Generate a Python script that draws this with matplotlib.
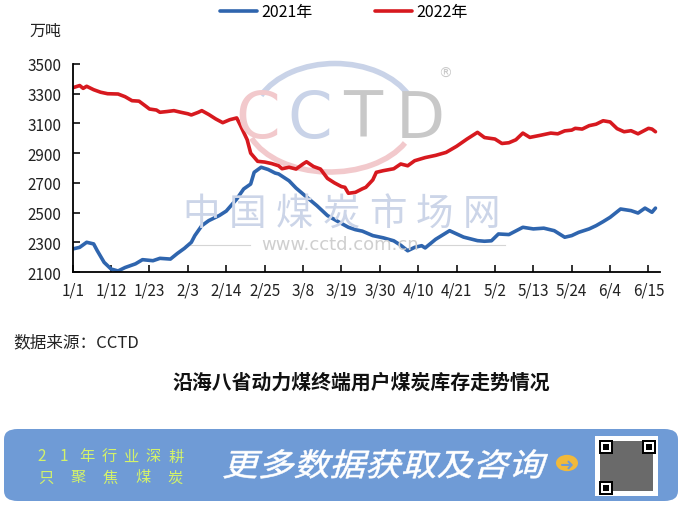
import numpy as np
import matplotlib
matplotlib.use("Agg")
import matplotlib.pyplot as plt
from matplotlib.patches import Arc, FancyBboxPatch, Circle, Rectangle, PathPatch
from matplotlib.textpath import TextPath
from matplotlib.font_manager import FontProperties
from matplotlib.transforms import Affine2D

plt.rcParams['font.family'] = ['Noto Sans CJK SC', 'DejaVu Sans']

# Données (jour depuis le 1/1, stock en 10^4 t)
days_2022 = [0, 2, 3, 4, 6, 8, 10, 13, 15, 17, 19, 21, 22, 24, 25, 27, 29, 31, 33, 34,
             36, 37, 39, 41, 43, 45, 47, 48, 50, 51, 53, 55, 57, 59, 60, 62, 64, 66, 67, 69,
             71, 73, 75, 77, 78, 79, 81, 83, 84, 86, 87, 89, 92, 94, 96, 98, 101, 104, 107, 110,
             113, 116, 118, 121, 123, 125, 127, 129, 131, 134, 137, 139, 141, 143, 144, 146, 148, 150, 152, 154,
             156, 158, 160, 162, 165, 166, 167]
vals_2022 = [3340, 3355, 3336, 3350, 3327, 3310, 3300, 3298, 3280, 3253, 3250, 3215, 3197, 3190, 3175, 3180, 3186, 3175, 3165, 3157,
             3175, 3186, 3160, 3130, 3105, 3125, 3137, 3090, 2990, 2900, 2845, 2840, 2830, 2815, 2795, 2805, 2793, 2827, 2842, 2810,
             2793, 2730, 2700, 2675, 2670, 2630, 2636, 2660, 2670, 2720, 2771, 2782, 2795, 2827, 2815, 2849, 2870, 2885, 2905, 2946,
             2995, 3040, 3005, 2995, 2965, 2970, 2990, 3035, 3006, 3020, 3035, 3030, 3050, 3055, 3067, 3062, 3085, 3095, 3118, 3110,
             3065, 3044, 3051, 3030, 3067, 3062, 3044]

days_2021 = [0, 2, 4, 6, 7, 9, 11, 13, 15, 18, 20, 23, 25, 28, 30, 32, 34, 35, 37, 39,
             42, 44, 47, 49, 51, 52, 54, 56, 58, 59, 62, 64, 67, 70, 73, 76, 79, 81, 83, 86,
             89, 92, 94, 96, 98, 100, 101, 104, 108, 112, 116, 118, 120, 122, 125, 129, 132, 135, 138, 141,
             143, 145, 148, 150, 152, 154, 157, 160, 162, 164, 166, 167]
vals_2021 = [2255, 2266, 2300, 2289, 2245, 2165, 2120, 2107, 2130, 2155, 2183, 2176, 2192, 2187, 2225, 2259, 2300, 2345, 2412, 2446,
             2480, 2510, 2591, 2659, 2692, 2771, 2805, 2790, 2766, 2760, 2714, 2665, 2605, 2546, 2480, 2440, 2401, 2385, 2375, 2345,
             2330, 2310, 2280, 2243, 2266, 2277, 2262, 2320, 2378, 2335, 2311, 2307, 2310, 2356, 2352, 2401, 2390, 2395, 2378, 2334,
             2345, 2367, 2390, 2412, 2439, 2468, 2524, 2513, 2497, 2530, 2502, 2530]

tick_days = [0, 11, 22, 33, 44, 55, 66, 77, 88, 99, 110, 121, 132, 143, 154, 165]
tick_labels = ['1/1', '1/12', '1/23', '2/3', '2/14', '2/25', '3/8', '3/19', '3/30',
               '4/10', '4/21', '5/2', '5/13', '5/24', '6/4', '6/15']
y_ticks = [2100, 2300, 2500, 2700, 2900, 3100, 3300, 3500]

W, H = 682, 506
fig = plt.figure(figsize=(W/100, H/100), dpi=100)

def fx(px):
    return px / W

def fy(py):
    return 1 - py / H

# Filigrane CCTD
wm = dict(ha='center', va='center', zorder=0, family='DejaVu Sans')
fig.text(fx(258), fy(120), 'C', fontsize=46, color='#f2c9cc', **wm)
fig.text(fx(310), fy(120), 'C', fontsize=46, color='#c9d3e8', **wm)
fig.text(fx(363), fy(120), 'T', fontsize=46, color='#c8c8c8', **wm)
fig.text(fx(420), fy(120), 'D', fontsize=46, color='#c8c8c8', **wm)
fig.text(fx(445), fy(74), '®', fontsize=10, color='#c8c8c8', **wm)
fig.add_artist(Arc((fx(335), fy(122)), 165/W, 115/H, theta1=25, theta2=155,
                   color='#c9d3e8', lw=4, transform=fig.transFigure, zorder=0))
fig.add_artist(Arc((fx(330), fy(118)), 170/W, 110/H, theta1=200, theta2=335,
                   color='#f2c9cc', lw=4, transform=fig.transFigure, zorder=0))
for i, ch in enumerate('中国煤炭市场网'):
    fig.text(fx(201 + i * 46.7), fy(214), ch, fontsize=27, color='#ccd5e8',
             ha='center', va='center', zorder=0)
fig.text(fx(340), fy(245), 'www.cctd.com.cn', fontsize=13, color='#cfcfcf', **wm)
fig.add_artist(plt.Line2D([fx(185), fx(250)], [fy(246), fy(246)], color='#d5d5d5', lw=0.8, zorder=0))
fig.add_artist(plt.Line2D([fx(430), fx(505)], [fy(246), fy(246)], color='#d5d5d5', lw=0.8, zorder=0))

ax = fig.add_axes([fx(72.7), fy(273), (660 - 72.7)/W, 208/H])
ax.patch.set_alpha(0)
ax.plot(days_2021, vals_2021, color='#2f65ae', lw=2.6, label='2021年', solid_capstyle='round')
ax.plot(days_2022, vals_2022, color='#d7191f', lw=2.6, label='2022年', solid_capstyle='round')

ax.set_xlim(0, 168.3)
ax.set_ylim(2100, 3500)
ax.set_yticks(y_ticks)
ax.set_xticks(tick_days)
ax.set_xticklabels(tick_labels)
ax.spines['top'].set_visible(False)
ax.spines['right'].set_visible(False)
for s in ['left', 'bottom']:
    ax.spines[s].set_linewidth(1.3)
ax.tick_params(axis='both', direction='in', length=5, width=1.3, labelsize=11, colors='#222222')
ax.tick_params(axis='y', pad=8)
ax.tick_params(axis='x', pad=7)

fig.legend(loc='center', bbox_to_anchor=(fx(344), fy(13)), ncol=2, frameon=False,
           fontsize=11.5, handlelength=2.3, columnspacing=3.9, handletextpad=0.3)

fig.text(fx(29), fy(31), '万吨', fontsize=11.5, va='center', ha='left', color='#222222')
fig.text(fx(13), fy(343), '数据来源：CCTD', fontsize=12, va='center', ha='left', color='#222222')
fig.text(fx(361), fy(382), '沿海八省动力煤终端用户煤炭库存走势情况', fontsize=14.3, fontweight='bold',
         va='center', ha='center', color='#111111')

# Bandeau du bas
fig.add_artist(FancyBboxPatch((fx(4), fy(502)), (678 - 4)/W, 72/H,
                              boxstyle='round,pad=0,rounding_size=0.02',
                              fc='#6f9bd6', ec='none', transform=fig.transFigure))
for i, ch in enumerate('21年行业深耕'):
    fig.text(fx(42 + i * 22.3), fy(457), ch, fontsize=11, color='#d3f26a', ha='center', va='center')
for i, ch in enumerate('只聚焦煤炭'):
    fig.text(fx(46 + i * 32.3), fy(478), ch, fontsize=11, color='#d3f26a', ha='center', va='center')

# texte principal en italique (cisaillement du tracé)
tp = TextPath((0, 0), '更多数据获取及咨询', size=33,
              prop=FontProperties(family='Noto Sans CJK SC', weight='medium'))
bb = tp.get_extents()
tr = (Affine2D().translate(-bb.x0 - bb.width / 2, -bb.y0 - bb.height / 2)
      .skew_deg(14, 0).scale(318 / bb.width, 0.95)
      .translate(386, H - 465))
fig.add_artist(PathPatch(tr.transform_path(tp), fc='white', ec='white', lw=0.4,
                         transform=None))

fig.add_artist(Circle((fx(567), fy(464)), 11/W, fc='#f1b93a', ec='none', transform=fig.transFigure))
fig.text(fx(567), fy(465), '➜', fontsize=12, color='#6f9bd6', ha='center', va='center', family='DejaVu Sans')

# QR code (schématique)
fig.add_artist(Rectangle((fx(595), fy(497)), 63/W, 60/H, fc='white', ec='none', transform=fig.transFigure))
fig.add_artist(Rectangle((fx(600), fy(492)), 53/W, 50/H, fc='#6a6a6a', ec='none', transform=fig.transFigure))
for (qx, qy) in [(599, 441), (642, 441), (599, 482)]:
    fig.add_artist(Rectangle((fx(qx), fy(qy + 14)), 14/W, 14/H, fc='black', ec='none', transform=fig.transFigure))
    fig.add_artist(Rectangle((fx(qx + 2), fy(qy + 12)), 10/W, 10/H, fc='white', ec='none', transform=fig.transFigure))
    fig.add_artist(Rectangle((fx(qx + 4), fy(qy + 10)), 6/W, 6/H, fc='black', ec='none', transform=fig.transFigure))

fig.savefig('out.png', dpi=100)
